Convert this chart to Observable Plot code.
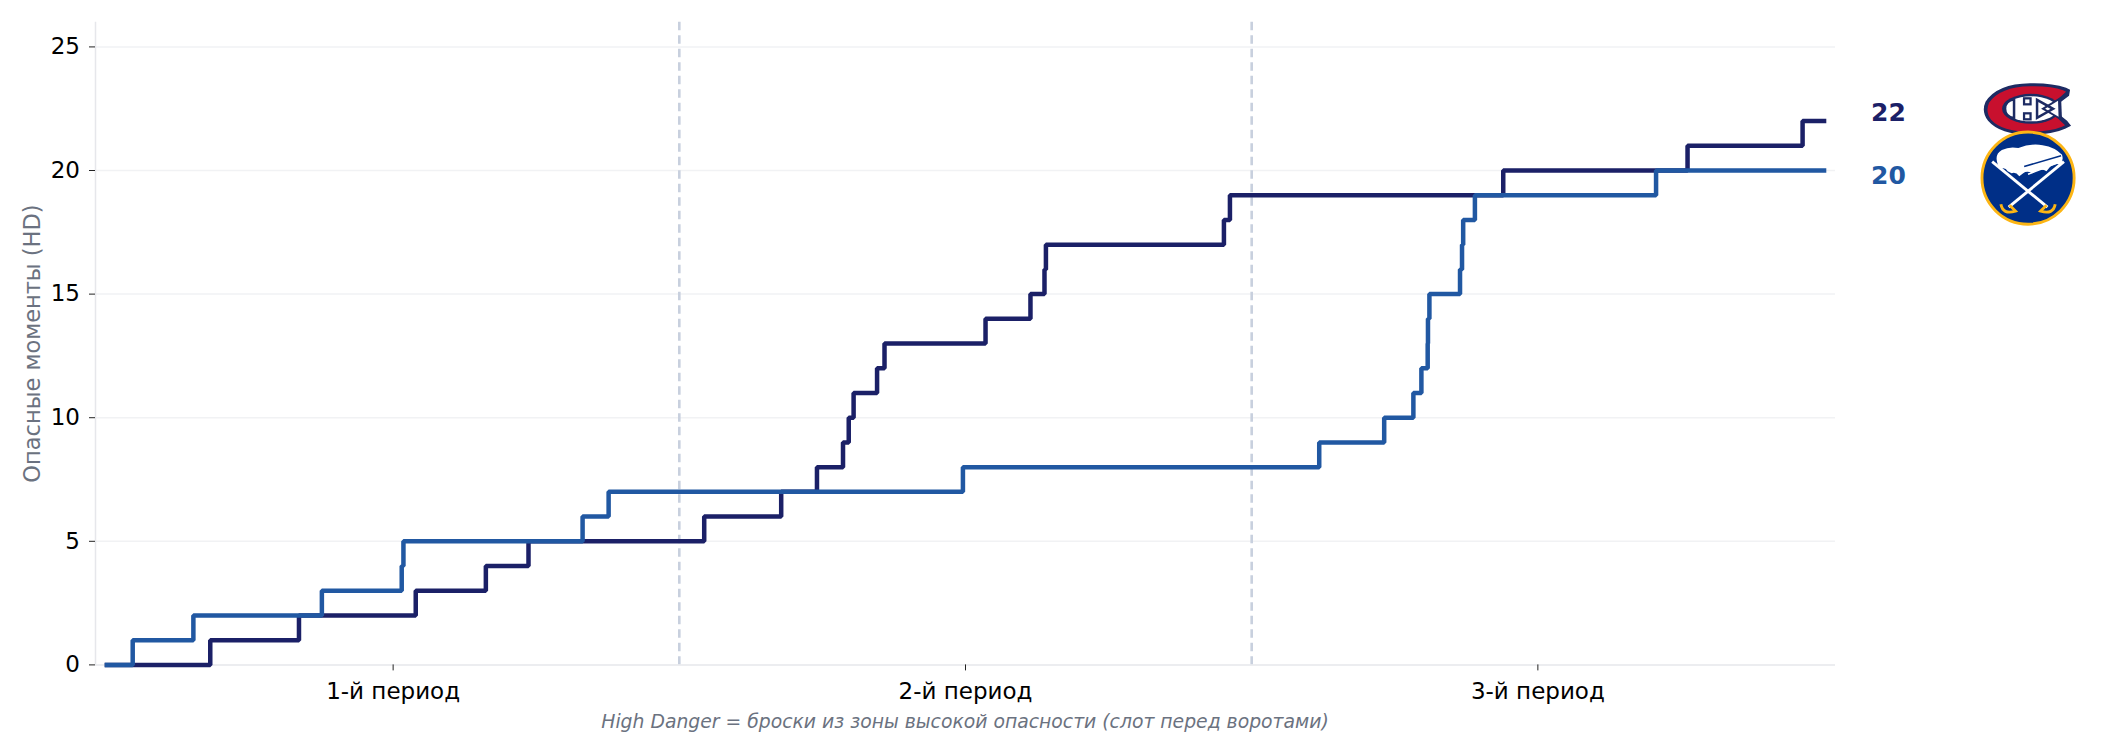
<!DOCTYPE html>
<html>
<head>
<meta charset="utf-8">
<script src="https://cdn.jsdelivr.net/npm/d3@7"></script>
<script src="https://cdn.jsdelivr.net/npm/@observablehq/plot@0.6"></script>
<style>
  html, body { margin: 0; padding: 0; background: #ffffff; }
  #wrap { position: relative; width: 2108px; height: 756px; overflow: hidden; }
  #caption {
    position: absolute; left: 0; width: 1930px; top: 713px;
    text-align: center; font-family: "DejaVu Sans", sans-serif; font-style: italic;
    font-size: 18.8px; line-height: 18.8px; color: #6b7280; white-space: nowrap;
  }
</style>
</head>
<body>
<div id="wrap"><div id="chart"></div><div id="caption"></div></div>
<script>
// ---- data ----
const periodTicks = [10, 30, 50];
const periodLabels = ["1-й период", "2-й период", "3-й период"];
const periodBreaks = [20, 40];
const yTicks = [0, 5, 10, 15, 20, 25];
const gridValues = [5, 10, 15, 20, 25];

const teams = ["MTL", "BUF"];
const teamColors = ["#1b2067", "#2158a2"];

// event minute of each high-danger chance and the running total after it
const mtlTimes = [3.61, 6.71, 10.79, 13.24, 14.73, 20.87, 23.56, 24.81, 25.72, 25.92, 26.09, 26.91, 27.17, 30.70, 32.27, 32.76, 32.81, 39.03, 39.24, 48.79, 55.23, 59.25];
const mtlCounts = [1, 2, 3, 4, 5, 6, 7, 8, 9, 10, 11, 12, 13, 14, 15, 16, 17, 18, 19, 20, 21, 22];
const bufTimes = [0.90, 3.02, 7.51, 10.30, 10.36, 16.62, 17.53, 29.91, 42.36, 44.63, 45.65, 45.93, 46.15, 46.16, 46.21, 47.28, 47.35, 47.39, 47.80, 54.13];
const bufCounts = [1, 2, 3, 4, 5, 6, 7, 8, 9, 10, 11, 12, 13, 14, 15, 16, 17, 18, 19, 20];
const gameStart = 0;
const gameEnd = 60;

const yLabel = "Опасные моменты (HD)";
const captionText = "High Danger = броски из зоны высокой опасности (слот перед воротами)";

// ---- build series ----
function series(team, times, counts) {
  const rows = [{team, t: gameStart, v: 0}];
  times.forEach((t, i) => rows.push({team, t, v: counts[i]}));
  rows.push({team, t: gameEnd, v: counts[counts.length - 1]});
  return rows;
}
const mtl = series("MTL", mtlTimes, mtlCounts);
const buf = series("BUF", bufTimes, bufCounts);
const finals = [
  {team: "MTL", t: gameEnd, v: mtlCounts[mtlCounts.length - 1]},
  {team: "BUF", t: gameEnd, v: bufCounts[bufCounts.length - 1]}
];

// ---- logos (drawn inline) ----
const habsSvg = `<svg xmlns="http://www.w3.org/2000/svg" viewBox="0 0 180 105">
<path d="M176 14 L168 10 Q140 0 96 1 Q30 2 7 38 Q-2 58 12 76 Q36 104 96 104 Q140 104 166 92 L178 86 L170 76 L150 60 L132 52 L150 44 L174 26 Z" fill="#1d2b63"/>
<path d="M168 18 L162 15 Q138 6 96 7 Q36 8 14 40 Q6 58 18 74 Q40 98 96 98 Q136 98 160 88 L166 85 L146 66 L124 52 L146 38 Z" fill="#c8102e"/>
<ellipse cx="98" cy="52" rx="58" ry="30" fill="#1d2b63"/>
<ellipse cx="98" cy="52" rx="53" ry="25" fill="#ffffff"/>
<polygon points="118,52 158,28 160,76" fill="#1d2b63"/>
<polygon points="126,52 152,36 153,68" fill="#ffffff"/>
<path d="M64 33 L64 71 Q46 68 46 52 Q46 36 64 33 Z" fill="none" stroke="#1d2b63" stroke-width="5"/>
<rect x="84" y="31" width="13" height="12" fill="#ffffff" stroke="#1d2b63" stroke-width="4.5"/>
<rect x="84" y="61" width="13" height="12" fill="#ffffff" stroke="#1d2b63" stroke-width="4.5"/>
<polygon points="110,34 142,52 110,70" fill="none" stroke="#1d2b63" stroke-width="5"/>
</svg>`;
const sabresSvg = `<svg xmlns="http://www.w3.org/2000/svg" viewBox="0 0 100 100">
<circle cx="50" cy="50" r="47.5" fill="#002f87" stroke="#fcb514" stroke-width="3"/>
<path d="M18 33 Q16 25 23 21 Q31 17 40 19 Q52 14 65 16 Q78 18 85 26 Q87 32 83 36 Q78 34 73 38 L69 43 Q64 40 58 43 L54 45 Q49 42 45 45 L41 48 Q37 43 33 45 L29 43 Q27 39 23 40 Q19 39 18 33 Z" fill="#ffffff"/>
<path d="M46 38 L84 27" stroke="#002f87" stroke-width="1.6"/>
<path d="M50 46 L84 33" stroke="#ffffff" stroke-width="1.6"/>
<line x1="13" y1="33" x2="70" y2="80" stroke="#ffffff" stroke-width="3"/>
<line x1="87" y1="33" x2="30" y2="80" stroke="#ffffff" stroke-width="3"/>
<path d="M22 77 Q24 88 37 84 L31 78" stroke="#fcb514" stroke-width="3" fill="none"/>
<path d="M78 77 Q76 88 63 84 L69 78" stroke="#fcb514" stroke-width="3" fill="none"/>
</svg>`;
const toUri = s => "data:image/svg+xml;charset=utf-8," + encodeURIComponent(s);
const logos = [
  {team: "MTL", t: gameEnd, v: mtlCounts[mtlCounts.length - 1], src: toUri(habsSvg)},
  {team: "BUF", t: gameEnd, v: bufCounts[bufCounts.length - 1], src: toUri(sabresSvg)}
];

const font = "'DejaVu Sans', sans-serif";

const chart = Plot.plot({
  width: 2108,
  height: 705,
  marginLeft: 95,
  marginRight: 273,
  marginTop: 21.7,
  marginBottom: 40.6,
  style: {fontFamily: font, fontSize: "23px", color: "#000", background: "#fff"},
  x: {domain: [-0.4, 60.4], axis: null},
  y: {domain: [0, 26], axis: null},
  color: {domain: teams, range: teamColors},
  marks: [
    Plot.ruleY(gridValues, {stroke: "#f1f2f4", strokeWidth: 1.5}),
    Plot.ruleX(periodBreaks, {stroke: "#c8d0de", strokeWidth: 2.6, strokeDasharray: "8.5,5"}),
    Plot.ruleX([-0.4], {stroke: "#e6e7eb", strokeWidth: 1.5}),
    Plot.ruleY([0], {stroke: "#e6e7eb", strokeWidth: 1.5}),
    Plot.axisY(yTicks, {tickSize: 6, tickPadding: 9.5, stroke: "#222", fill: "#000", fontSize: 23, label: null}),
    Plot.axisX(periodTicks, {tickSize: 6, tickPadding: 11.5, stroke: "#222", fill: "#000", fontSize: 23, label: null,
      tickFormat: d => periodLabels[periodTicks.indexOf(d)]}),
    Plot.text([yLabel], {frameAnchor: "left", textAnchor: "middle", dx: -63, rotate: -90, fill: "#6b7280", fontSize: 22.5, text: d => d}),
    Plot.line(mtl, {x: "t", y: "v", stroke: "team", curve: "step-after", strokeWidth: 4.5, strokeLinecap: "square", strokeLinejoin: "miter"}),
    Plot.line(buf, {x: "t", y: "v", stroke: "team", curve: "step-after", strokeWidth: 4.5, strokeLinecap: "square", strokeLinejoin: "miter"}),
    Plot.text(finals.filter(d => d.team === "MTL"), {x: "t", y: "v", text: d => String(d.v), fill: "team", dx: 47, dy: -8.5, textAnchor: "start", fontWeight: "bold", fontSize: 25}),
    Plot.text(finals.filter(d => d.team === "BUF"), {x: "t", y: "v", text: d => String(d.v), fill: "team", dx: 47, dy: 5.6, textAnchor: "start", fontWeight: "bold", fontSize: 25}),
    Plot.image(logos.filter(d => d.team === "MTL"), {x: "t", y: "v", src: "src", width: 90, height: 53, dx: 203, dy: -12}),
    Plot.image(logos.filter(d => d.team === "BUF"), {x: "t", y: "v", src: "src", width: 97, height: 97, dx: 204, dy: 7.6})
  ]
});
document.getElementById("chart").appendChild(chart);
document.getElementById("caption").textContent = captionText;
</script>
</body>
</html>
